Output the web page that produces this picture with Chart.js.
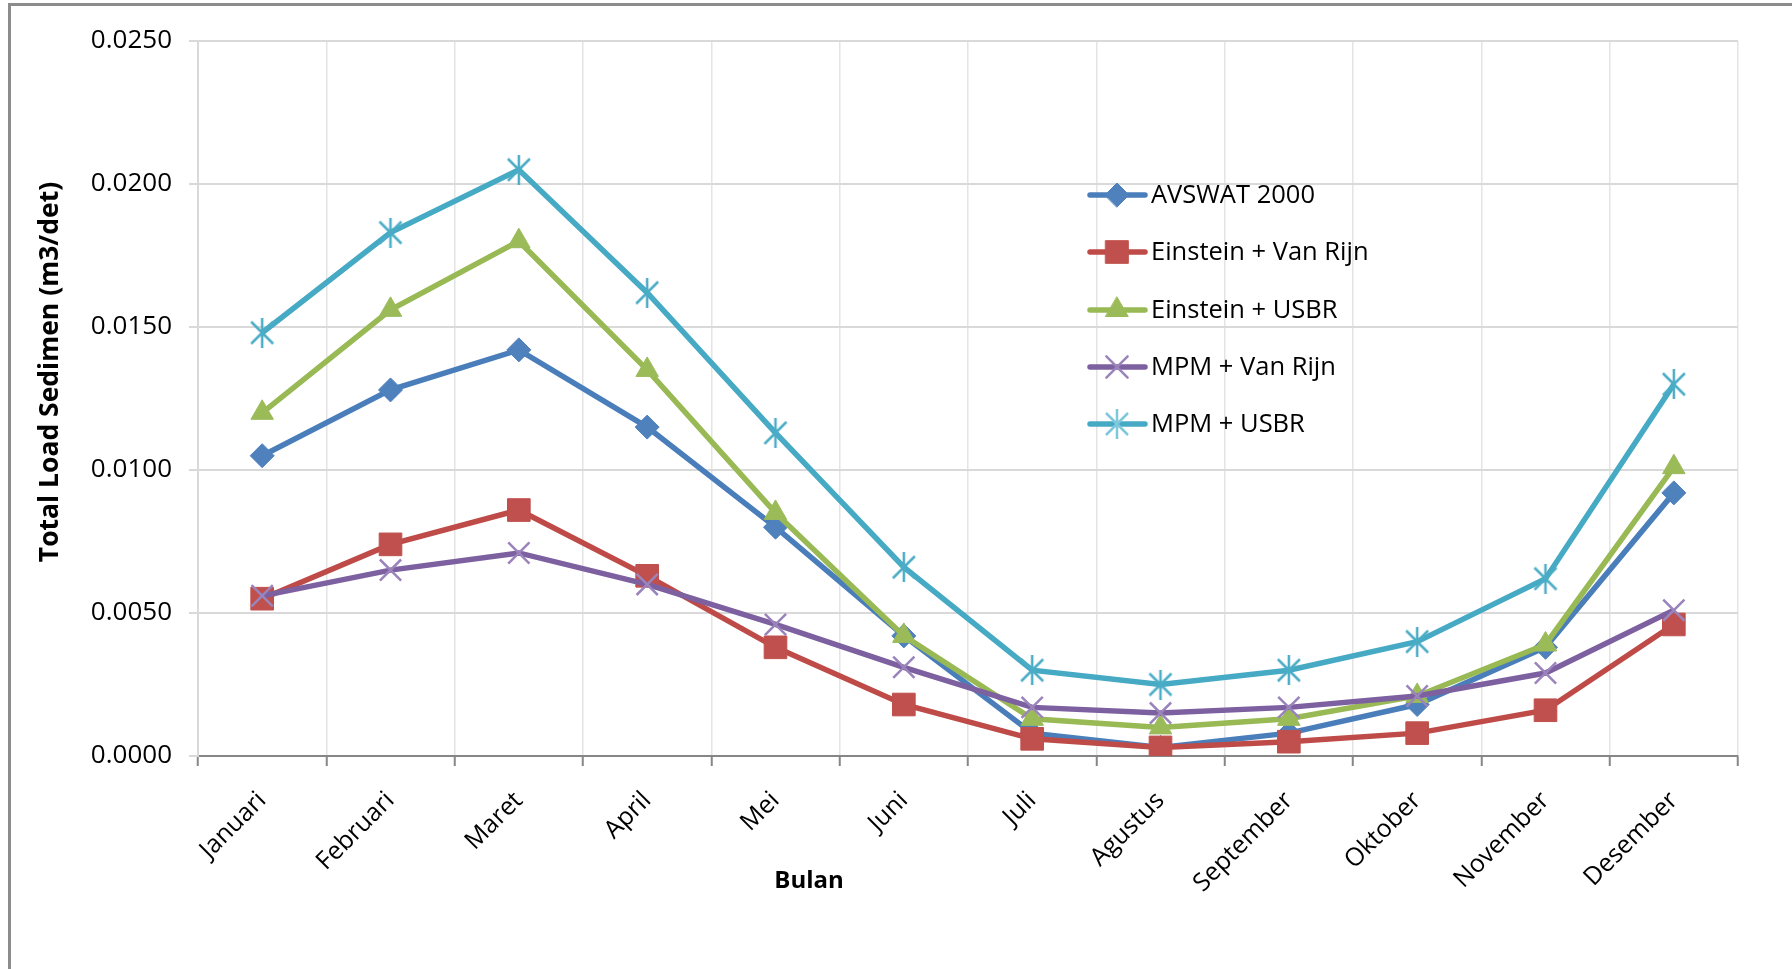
<!DOCTYPE html>
<html><head><meta charset="utf-8">
<script src="https://cdn.jsdelivr.net/npm/chart.js@4.4.0/dist/chart.umd.min.js"></script>
<style>
html,body{margin:0;padding:0;background:#fff;overflow:hidden;}
#wrap{position:absolute;left:0;top:0;width:1792px;height:969px;}
#frame{position:absolute;left:8px;top:3px;width:1800px;height:1000px;border-left:3px solid #8c8c8c;border-top:3px solid #8c8c8c;}
canvas{position:absolute;left:0;top:0;}
</style></head><body>
<div id="wrap"><div id="frame"></div><canvas id="c" width="1792" height="969"></canvas></div>
<script>
const months = ["Januari","Februari","Maret","April","Mei","Juni","Juli","Agustus","September","Oktober","November","Desember"];
const seriesNames = ["AVSWAT 2000","Einstein + Van Rijn","Einstein + USBR","MPM + Van Rijn","MPM + USBR"];
const avswat2000      = [0.0105,0.0128,0.0142,0.0115,0.0080,0.0042,0.0008,0.0003,0.0008,0.0018,0.0038,0.0092];
const einsteinVanRijn = [0.0055,0.0074,0.0086,0.0063,0.0038,0.0018,0.0006,0.0003,0.0005,0.0008,0.0016,0.0046];
const einsteinUSBR    = [0.0120,0.0156,0.0180,0.0135,0.0085,0.0042,0.0013,0.0010,0.0013,0.0021,0.0039,0.0101];
const mpmVanRijn      = [0.0056,0.0065,0.0071,0.0060,0.0046,0.0031,0.0017,0.0015,0.0017,0.0021,0.0029,0.0051];
const mpmUSBR         = [0.0148,0.0183,0.0205,0.0162,0.0113,0.0066,0.0030,0.0025,0.0030,0.0040,0.0062,0.0130];
const yTicks = [0,0.005,0.010,0.015,0.020,0.025];
const yTitle = "Total Load Sedimen (m3/det)";
const xTitle = "Bulan";

const FONT = "'Open Sans', 'Noto Sans', sans-serif";

function makeStar(color){
  const c = document.createElement('canvas');
  c.width = 26; c.height = 30;
  const g = c.getContext('2d');
  g.strokeStyle = color; g.lineWidth = 2.5; g.lineCap = 'butt';
  g.beginPath();
  g.moveTo(2,4); g.lineTo(24,26);
  g.moveTo(24,4); g.lineTo(2,26);
  g.moveTo(13,0); g.lineTo(13,30);
  g.stroke();
  return c;
}
const starImg = makeStar('#4BACC6');
const starLegend = makeStar('#7fc8dc');

const lineColors = ['#4A7EBB','#BE4B48','#98B954','#7D60A0','#46AAC5'];
const markerColors = ['#4F81BD','#C0504D','#9BBB59','#8064A2','#4BACC6'];
const pointStyles = ['rectRot','rect','triangle','crossRot',starImg];
const pointRadii = [12,16,13,15,13];
const allValues = [avswat2000, einsteinVanRijn, einsteinUSBR, mpmVanRijn, mpmUSBR];

const datasets = allValues.map((vals,i)=>({
  label: seriesNames[i],
  data: vals,
  borderColor: lineColors[i],
  backgroundColor: markerColors[i],
  borderWidth: 5.5,
  pointStyle: pointStyles[i],
  pointRadius: pointRadii[i],
  pointHoverRadius: pointRadii[i],
  pointBackgroundColor: markerColors[i],
  pointBorderColor: i===3 ? '#9a84bb' : markerColors[i],
  pointBorderWidth: i>=3 ? 2.5 : 1,
  tension: 0,
  order: 4 - i
}));

const decor = {
  id:'decor',
  afterDraw(chart){
    const ctx = chart.ctx;
    ctx.save();
    ctx.fillStyle = '#000';
    ctx.font = "bold 26.5px " + FONT;
    ctx.textAlign = 'center'; ctx.textBaseline = 'middle';
    ctx.save();
    ctx.translate(50, 372);
    ctx.rotate(-Math.PI/2);
    ctx.fillText(yTitle, 0, 0);
    ctx.restore();
    ctx.font = "bold 24px " + FONT;
    ctx.fillText(xTitle, 809, 881);
    const rows = [195, 252, 310, 367, 424];
    chart.data.datasets.forEach((ds,i)=>{
      const y = rows[i];
      ctx.strokeStyle = ds.borderColor;
      ctx.lineWidth = 5.5;
      ctx.lineCap = 'round';
      ctx.beginPath(); ctx.moveTo(1090, y); ctx.lineTo(1145, y); ctx.stroke();
      ctx.fillStyle = ds.pointBackgroundColor;
      ctx.strokeStyle = ds.pointBorderColor;
      ctx.lineWidth = ds.pointBorderWidth;
      const ps = (i===4) ? starLegend : ds.pointStyle;
      Chart.helpers.drawPoint(ctx, {pointStyle: ps, radius: ds.pointRadius, rotation: 0, borderWidth: ds.pointBorderWidth}, 1117, y);
      ctx.fillStyle = '#000';
      ctx.font = "25.5px " + FONT;
      ctx.textAlign = 'left'; ctx.textBaseline = 'middle';
      ctx.fillText(ds.label, 1151, y + 1);
    });
    ctx.restore();
  }
};

new Chart(document.getElementById('c'), {
  type: 'line',
  data: { labels: months, datasets },
  options: {
    responsive: false,
    animation: false,
    devicePixelRatio: 1,
    events: [],
    layout: { padding: { left: 0, top: 41, right: 54, bottom: 0 } },
    plugins: { legend: { display: false }, tooltip: { enabled: false }, title: { display: false } },
    scales: {
      x: {
        type: 'category',
        offset: true,
        grid: { offset: true, color: '#e4e4e4', lineWidth: 1.5, tickColor: '#868686', tickLength: 10, tickWidth: 2 },
        border: { color: '#868686', width: 2 },
        ticks: { minRotation: 45, maxRotation: 45, autoSkip: false, color: '#000', font: { family: FONT, size: 25 }, padding: 20 },
        afterFit(s){ s.height = 969 - 756; }
      },
      y: {
        min: 0, max: 0.025,
        afterBuildTicks(s){ s.ticks = yTicks.map(v=>({value:v})); },
        grid: { color: '#d9d9d9', lineWidth: 2, tickLength: 9 },
        border: { color: '#d9d9d9', width: 2 },
        ticks: { color: '#000', font: { family: FONT, size: 26 }, padding: 17, callback: v => Number(v).toFixed(4) },
        afterFit(s){ s.width = 198; }
      }
    }
  },
  plugins: [decor]
});
</script>
</body></html>
